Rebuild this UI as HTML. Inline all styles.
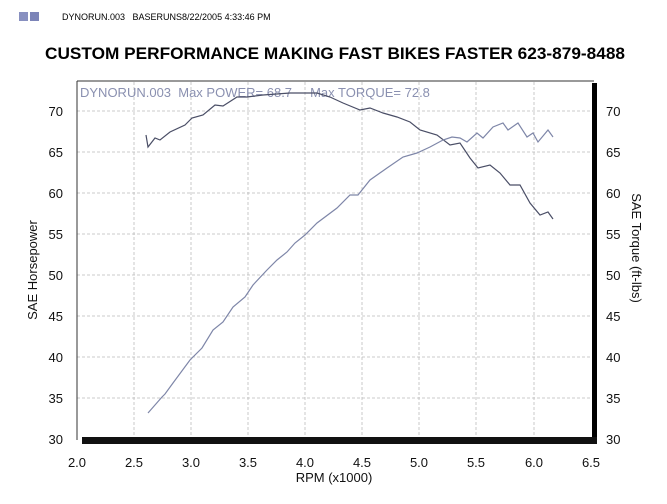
<!DOCTYPE html>
<html><head><style>
body{margin:0;background:#fff;width:667px;height:499px;overflow:hidden;font-family:"Liberation Sans",sans-serif}
</style></head><body>
<svg width="667" height="499" xmlns="http://www.w3.org/2000/svg" font-family="Liberation Sans, sans-serif">
<rect x="19" y="12" width="9" height="9" fill="#8890c0"/><rect x="30" y="12" width="9" height="9" fill="#7c84b8"/>
<text x="62" y="20" font-size="9">DYNORUN.003&#160;&#160;&#160;BASERUNS8/22/2005 4:33:46 PM</text>
<text x="45" y="59" font-size="17" font-weight="bold" textLength="580" lengthAdjust="spacingAndGlyphs">CUSTOM PERFORMANCE MAKING FAST BIKES FASTER 623-879-8488</text>
<g stroke="#bbb" stroke-width="0.8" stroke-dasharray="3,2">
<line x1="134" y1="82" x2="134" y2="438"/><line x1="191" y1="82" x2="191" y2="438"/><line x1="248" y1="82" x2="248" y2="438"/><line x1="305" y1="82" x2="305" y2="438"/><line x1="362" y1="82" x2="362" y2="438"/><line x1="419" y1="82" x2="419" y2="438"/><line x1="476" y1="82" x2="476" y2="438"/><line x1="534" y1="82" x2="534" y2="438"/>
<line x1="77" y1="111" x2="592" y2="111"/><line x1="77" y1="152" x2="592" y2="152"/><line x1="77" y1="193" x2="592" y2="193"/><line x1="77" y1="234" x2="592" y2="234"/><line x1="77" y1="275" x2="592" y2="275"/><line x1="77" y1="316" x2="592" y2="316"/><line x1="77" y1="357" x2="592" y2="357"/><line x1="77" y1="398" x2="592" y2="398"/>
</g>
<line x1="77" y1="81" x2="594" y2="81" stroke="#333" stroke-width="1"/>
<line x1="77" y1="81" x2="77" y2="440" stroke="#333" stroke-width="1"/>
<rect x="592" y="83" width="5" height="361" fill="#000"/>
<rect x="82" y="437" width="515" height="7" fill="#111"/>
<g font-size="13" fill="#111">
<text x="63" y="116" text-anchor="end">70</text><text x="63" y="157" text-anchor="end">65</text><text x="63" y="198" text-anchor="end">60</text><text x="63" y="239" text-anchor="end">55</text><text x="63" y="280" text-anchor="end">50</text><text x="63" y="321" text-anchor="end">45</text><text x="63" y="362" text-anchor="end">40</text><text x="63" y="403" text-anchor="end">35</text><text x="63" y="444" text-anchor="end">30</text>
<text x="606" y="116">70</text><text x="606" y="157">65</text><text x="606" y="198">60</text><text x="606" y="239">55</text><text x="606" y="280">50</text><text x="606" y="321">45</text><text x="606" y="362">40</text><text x="606" y="403">35</text><text x="606" y="444">30</text>
<g text-anchor="middle"><text x="77" y="467">2.0</text><text x="134" y="467">2.5</text><text x="191" y="467">3.0</text><text x="248" y="467">3.5</text><text x="305" y="467">4.0</text><text x="362" y="467">4.5</text><text x="419" y="467">5.0</text><text x="476" y="467">5.5</text><text x="534" y="467">6.0</text><text x="591" y="467">6.5</text></g>
<text x="334" y="482" text-anchor="middle">RPM (x1000)</text>
<text transform="translate(37,270) rotate(-90)" text-anchor="middle">SAE Horsepower</text>
<text transform="translate(632,248) rotate(90)" text-anchor="middle">SAE Torque (ft-lbs)</text>
</g>
<text x="80" y="97" font-size="13" fill="#8a90b0">DYNORUN.003&#160;&#160;Max POWER= 68.7&#160;&#160;&#160;&#160;&#160;Max TORQUE= 72.8</text>
<polyline fill="none" stroke="#4a4e66" stroke-width="1.2" points="146,135 148,147 155,138 160,140 170,132 185,125 192,118 203,115 215,105 223,106 237,97 247,97 263,95 290,93 317,93 330,97 343,103 360,110 370,108 383,113 397,117 410,122 420,130 437,135 450,145 460,143 470,158 478,168 490,165 500,173 510,185 520,185 530,203 540,215 548,212 553,219"/>
<polyline fill="none" stroke="#7e86a8" stroke-width="1.2" points="148,413 155,405 162,397 165,394 173,383 190,360 202,348 213,330 223,322 233,307 245,297 253,285 267,270 277,260 287,252 295,243 305,235 317,223 337,208 350,195 358,195 370,180 387,168 403,157 417,153 430,147 443,140 452,137 460,138 467,142 477,133 483,138 493,127 503,123 508,130 518,123 527,137 533,133 538,142 548,130 553,137"/>
</svg>
</body></html>
